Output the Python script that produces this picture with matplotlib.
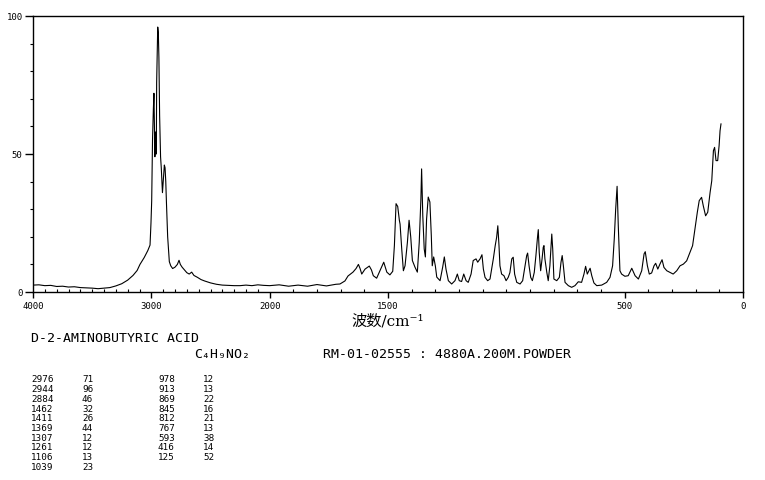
import numpy as np
import matplotlib
matplotlib.use('Agg')
import matplotlib.pyplot as plt
from matplotlib.ticker import FixedLocator

# spectrum (wavenumber cm-1 , intensity %)
spectrum_wn = [4000, 3950, 3900, 3850, 3800, 3750, 3700, 3650, 3600, 3550, 3500, 3450, 3400, 3350,
               3300, 3250, 3200, 3155, 3120, 3096, 3060, 3030, 3011, 3003, 2997, 2990, 2983, 2978,
               2974, 2970, 2966, 2962, 2958, 2955, 2950, 2946, 2941, 2936, 2930, 2922, 2916, 2906,
               2898, 2890, 2884, 2878, 2872, 2862, 2848, 2836, 2820, 2800, 2780, 2766, 2755, 2740,
               2720, 2700, 2680, 2659, 2640, 2610, 2580, 2550, 2500, 2450, 2400, 2350, 2300, 2250,
               2200, 2150, 2100, 2050, 2000,
               1960, 1920, 1880, 1840, 1800, 1760, 1720, 1703, 1682, 1669, 1648, 1635, 1625, 1618,
               1611, 1597, 1579, 1570, 1562, 1548, 1534, 1518, 1505, 1492, 1480, 1473, 1466, 1459,
               1452, 1449, 1442, 1435, 1428, 1418, 1411, 1404, 1397, 1386, 1376, 1368, 1361, 1358,
               1353, 1347, 1342, 1337, 1330, 1323, 1317, 1313, 1307, 1300, 1294, 1280, 1269, 1262,
               1255, 1245, 1231, 1217, 1207, 1199, 1189, 1180, 1170, 1161, 1149, 1140, 1128, 1121,
               1111, 1103, 1097, 1090, 1079, 1069, 1055, 1047, 1041, 1036, 1031, 1027, 1020, 1010,
               1001, 992,
               985, 977, 971, 965, 956, 942, 931, 921, 914, 910, 904, 897, 890, 882, 875, 869, 865,
               861, 855, 849, 844, 841, 837, 829, 823, 816, 811, 808, 804, 799, 787, 776, 769, 764,
               759, 752, 738, 724, 710, 696, 682, 672, 665, 658, 646, 639, 630, 618, 597, 576, 562,
               551, 544, 538, 534, 532, 527, 520,
               513, 499, 485, 470, 456, 442, 428, 418, 413, 404, 396, 386, 376, 369, 360, 351, 342,
               334, 322, 308, 295, 280, 266, 252, 238, 224, 213, 203, 193, 185, 175, 168, 158, 149,
               139, 132, 125, 120, 114, 107, 101, 97, 93]
spectrum_int = [2.5, 2.6, 2.3, 2.4, 2.0, 2.1, 1.8, 1.9, 1.6, 1.5, 1.4, 1.2, 1.4, 1.6,
                2.2, 3.0, 4.3, 6.0, 7.8, 10, 12.5, 15, 17, 25, 33, 55, 66, 72,
                60, 49, 55, 58, 50, 76, 87, 96, 94, 85, 64, 49, 45, 36,
                41, 46, 45, 40, 32, 20, 11, 9.5, 8.5, 9, 10, 11.5, 10, 9,
                8, 7, 6.5, 7.2, 6, 5.3, 4.5, 4, 3.3, 2.8, 2.5, 2.4, 2.3, 2.3,
                2.5, 2.3, 2.6, 2.4, 2.3,
                2.6, 2.1, 2.5, 2.1, 2.7, 2.2, 2.8, 2.9, 4, 5.8, 7.2, 8.5, 10, 8.5,
                6.5, 8.3, 9.4, 8, 5.9, 5, 7.7, 10.8, 7.2, 6.2, 7.5, 16.8, 32, 31,
                26, 24.6, 15.6, 7.7, 9.5, 18, 26, 20, 11.4, 9, 7.2, 18, 33.7, 44.6,
                27.6, 15.6, 12.7, 26.4, 34.4, 32.6, 20.4, 9.5, 12.7, 9.5, 5.4, 4.1, 9, 12.7,
                8.3, 4.1, 2.9, 4.1, 6.5, 4.1, 3.8, 6.5, 4.1, 3.5, 6.5, 11.4, 12, 10.8,
                12, 13.5, 8.3, 5.3, 4.1, 4.7, 12, 16.8, 19.8, 24, 16.8, 9.5, 6.5, 5.9,
                4.1, 5.3,
                7, 12, 12.6, 6.5, 3.5, 2.9, 4.1, 9.5, 13.2, 14.1, 9.5, 5.3, 4.1, 7.1, 13.2, 19.2, 22.6,
                14.4, 7.7, 12, 16.2, 16.8, 12, 7.1, 4.1, 9.5, 16.8, 21, 15.6, 4.7, 4.1, 5.3, 10.8, 13.2,
                9.5, 3.5, 2.3, 1.7, 2.3, 3.7, 3.5, 6.5, 9.3, 6.5, 8.6, 5.9, 3.3, 2.3, 2.5, 3.5, 5.3,
                9.5, 19.2, 30, 36, 38.3, 24, 7.7,
                6.5, 5.7, 5.9, 8.6, 5.9, 4.7, 7.7, 13.8, 14.6, 9.5, 6.5, 6.9, 9.5, 10.4, 8.3, 10.1, 11.7,
                8.9, 7.7, 7.1, 6.5, 7.7, 9.5, 10.1, 11.3, 14.4, 16.8, 22.8, 28.9, 33.1, 34.3, 31.3, 27.6, 28.9,
                36.1, 40.3, 51.2, 52.4, 47.6, 47.6, 53, 58.4, 60.9]

# peak table printed under the chart
peak_wn = [2976, 2944, 2884, 1462, 1411, 1369, 1307, 1261, 1106, 1039,
           978, 913, 869, 845, 812, 767, 593, 416, 125]
peak_int = [71, 96, 46, 32, 26, 44, 12, 12, 13, 23,
            12, 13, 22, 16, 21, 13, 38, 14, 52]

x_ticks = [4000, 3000, 2000, 1500, 500, 0]
y_ticks = [0, 50, 100]

W, H = 765, 481
mono = 'DejaVu Sans Mono'


# axis is half scale above 2000 cm-1
def forward(w):
    w = np.asarray(w, dtype=float)
    return np.where(w > 2000, 2000 + (w - 2000) / 2.0, w)


def inverse(u):
    u = np.asarray(u, dtype=float)
    return np.where(u > 2000, 2000 + (u - 2000) * 2.0, u)


fig = plt.figure(figsize=(W / 100, H / 100), dpi=100)
ax = fig.add_axes([33 / W, 1 - 293 / H, 710 / W, 276 / H])

ax.plot(spectrum_wn, spectrum_int, color='black', linewidth=0.8)

ax.set_xscale('function', functions=(forward, inverse))
ax.set_xlim(4000, 0)
ax.set_ylim(0, 100)

ax.xaxis.set_major_locator(FixedLocator(x_ticks))
ax.xaxis.set_minor_locator(FixedLocator(list(range(0, 4001, 100))))
ax.set_xticklabels([str(t) for t in x_ticks], fontfamily=mono, fontsize=6.5)
ax.yaxis.set_major_locator(FixedLocator(y_ticks))
ax.yaxis.set_minor_locator(FixedLocator(list(range(0, 101, 10))))
ax.set_yticklabels([str(t) for t in y_ticks], fontfamily=mono, fontsize=6.5)

ax.tick_params(axis='x', which='major', direction='out', length=4.5, width=1, pad=2)
ax.tick_params(axis='x', which='minor', direction='in', length=2.5, width=0.8)
ax.tick_params(axis='y', which='major', direction='out', length=6, width=1, pad=1.5)
ax.tick_params(axis='y', which='minor', direction='out', length=2, width=0.8)
for s in ax.spines.values():
    s.set_linewidth(1.0)

ax.set_xlabel('波数/cm⁻¹', family=['DejaVu Serif', 'Noto Sans CJK SC'], fontsize=11, labelpad=2)


# text under the chart, positions in pixels
def put(x, y, s, size, **kw):
    fig.text(x / W, 1 - y / H, s, fontsize=size, va='center', ha='left',
             family=[mono, 'DejaVu Sans'], **kw)


put(31, 338, 'D-2-AMINOBUTYRIC ACID', 9.5)
put(194, 355, 'C₄H₉NO₂', 9.5)
put(323, 354, 'RM-01-02555 : 4880A.200M.POWDER', 9.5)

# peak table, 10 rows per column pair
for i in range(len(peak_wn)):
    col = i // 10
    row = i % 10
    y = 380 + row * 9.67
    put(31 + col * 127, y, str(peak_wn[i]), 6.7)
    put(82 + col * 121, y, str(peak_int[i]), 6.7)

fig.savefig('out.png', dpi=100)
